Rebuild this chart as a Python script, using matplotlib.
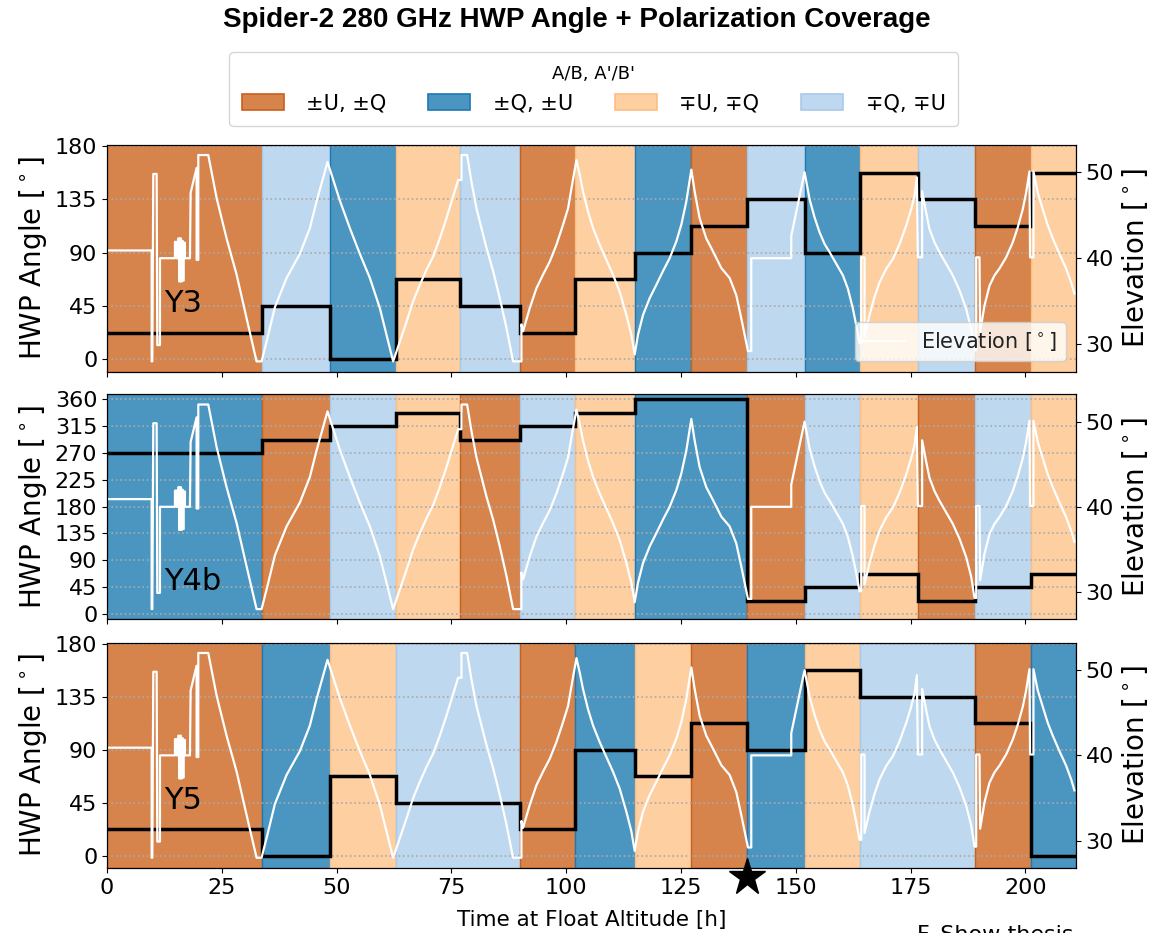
import numpy as np
import matplotlib
matplotlib.use('Agg')
from matplotlib import pyplot as plt
from matplotlib.patches import Patch

# time edges of the HWP steps [h]
edges = [0, 33.7, 48.5, 62.9, 76.8, 89.9, 101.9, 114.9, 127.1, 139.3,
         151.9, 163.9, 176.5, 189.1, 201.3, 211]

# HWP angle for each step [deg]
hwp_y3 = [22.5, 45, 0, 67.5, 45, 22.5, 67.5, 90, 112.5, 135, 90, 157.5, 135, 112.5, 157.5]
hwp_y4b = [270, 292.5, 315, 337.5, 292.5, 315, 337.5, 360, 360, 22.5, 45, 67.5, 22.5, 45, 67.5]
hwp_y5 = [22.5, 0, 67.5, 45, 45, 22.5, 90, 67.5, 112.5, 90, 157.5, 135, 135, 112.5, 0]

# telescope elevation over the flight [h], [deg]
elev_t = [0, 9.72, 9.72, 9.87, 10.08, 10.81, 10.95, 11.53, 11.53, 14.8, 14.8, 15.16, 15.16,
          15.52, 15.52, 15.7, 15.7, 15.9, 15.9, 16.1, 16.1, 16.3, 16.3, 16.5, 16.5, 16.7, 16.7,
          16.97, 16.97, 18.06, 18.21, 19.51, 19.51, 19.88, 19.88, 22.05,
          23.87, 26.04, 28.22, 30.4, 32.57, 33.66,
          34.75, 36.56, 39.1, 42.0, 44.18, 45.63, 48.02,
          50.71, 52.88, 55.06, 57.24, 59.41, 60.86, 62.31,
          63.76, 65.22, 66.67, 68.12, 69.57, 71.02, 72.47, 73.92, 75.37, 76.46,
          77.19, 77.19, 78.42,
          79.36, 80.45, 81.54, 82.63, 84.08, 85.53, 86.98, 88.43, 90.24, 90.24, 90.6,
          92.06, 93.51, 94.96, 96.41, 97.86, 99.31, 100.4, 101.13, 102.22,
          102.94, 103.66, 104.75, 105.84, 107.29, 108.74, 110.19, 111.64, 113.09, 114.18, 114.91,
          115.63, 116.72, 118.17, 119.62, 121.07, 122.52, 123.97, 125.06, 126.15, 127.24,
          127.97, 129.05, 130.5, 131.95, 133.77, 135.58, 137.03, 138.12, 138.85, 139.57,
          140.29, 140.29, 149.0, 149.0, 151.9,
          152.99, 154.08, 155.17, 156.26, 157.35, 158.8, 160.25, 161.33, 162.42, 163.15, 163.87,
          164.24, 164.24, 164.96, 164.96,
          166.05, 167.14, 168.23, 169.68, 171.13, 172.58, 174.03, 175.12, 175.84, 176.35,
          176.57, 177.5, 177.5,
          178.38, 179.1, 180.19, 181.28, 182.73, 184.18, 185.64, 187.09, 188.18, 188.9,
          189.27, 189.27, 189.99, 190.13,
          191.08, 192.17, 193.25, 194.34, 195.79, 197.24, 198.33, 199.42, 200.14, 200.87,
          201.0, 201.74, 201.74,
          202.68, 203.77, 204.86, 205.95, 207.4, 208.85, 209.94, 210.66]
elev_deg = [40.9, 40.9, 28.0, 28.0, 49.8, 49.8, 29.9, 29.9, 40.0, 40.0, 41.9, 41.9, 40.0,
            40.0, 42.3, 42.3, 37.3, 37.3, 42.3, 42.3, 37.3, 37.3, 42.0, 42.0, 37.4, 37.4, 41.8,
            41.8, 40.0, 40.0, 47.6, 50.5, 39.8, 39.8, 52.0, 52.0,
            47.0, 42.3, 38.1, 33.0, 28.0, 28.0,
            30.3, 34.3, 37.7, 40.5, 43.5, 46.6, 51.2,
            46.7, 43.5, 40.5, 37.7, 34.2, 31.1, 28.0,
            30.3, 32.6, 35.0, 36.9, 38.65, 40.2, 42.3, 44.65, 47.2, 49.1,
            49.1, 52.0, 52.0,
            48.9, 45.8, 43.5, 41.2, 38.5, 35.35, 31.9, 28.0, 28.0, 32.3, 31.5,
            34.2, 36.5, 38.1, 39.6, 41.55, 43.9, 45.8, 48.1, 51.4,
            49.7, 47.76, 45.4, 43.5, 41.55, 39.8, 38.07, 36.1, 33.4, 31.1, 28.8,
            31.1, 33.4, 35.35, 36.9, 38.5, 40.0, 41.94, 43.9, 46.6, 50.3,
            47.76, 44.65, 42.3, 40.8, 38.85, 37.7, 35.7, 33.0, 31.1, 29.2,
            29.2, 40.0, 40.0, 42.6, 50.0,
            46.86, 44.74, 43.0, 41.65, 40.7, 39.35, 38.0, 36.45, 34.14, 32.2, 30.1,
            30.1, 40.1, 40.1, 30.9,
            33.4, 35.5, 37.2, 38.77, 39.9, 41.65, 43.8, 45.7, 47.25, 49.4,
            40.1, 40.1, 47.8,
            45.3, 43.4, 41.85, 40.7, 39.35, 38.0, 36.26, 34.1, 31.8, 29.3,
            29.3, 40.1, 40.1, 31.4,
            34.5, 36.8, 38.0, 38.8, 40.1, 41.85, 43.6, 45.7, 47.6, 50.1,
            40.1, 40.1, 50.1,
            47.6, 45.7, 43.8, 42.3, 40.5, 38.8, 37.2, 35.9]

panel_names = ['Y3', 'Y4b', 'Y5']
cov_labels = ['\u00b1U, \u00b1Q', '\u00b1Q, \u00b1U', '\u2213U, \u2213Q', '\u2213Q, \u2213U']
face_cols = ['#d6844b', '#4a96c0', '#fdcfa1', '#bdd8ef']
edge_cols = ['#c8601e', '#1f77b4', '#fbbf85', '#a9c9ea']

# coverage class from the HWP angle (mod 90)
ang2cls = {0.0: 1, 22.5: 0, 45.0: 3, 67.5: 2}

fig = plt.figure(figsize=(11.53, 9.33), dpi=100)
fig.suptitle('Spider-2 280 GHz HWP Angle + Polarization Coverage', fontsize=20,
             fontweight='bold', family='Liberation Sans', y=0.992)

bottoms = [0.6016, 0.3362, 0.0697]
heights = [0.2433, 0.2412, 0.2414]
ylims = [(-10.5, 181), (-9, 368.5), (-10.5, 181)]
yticks = [np.arange(0, 181, 45), np.arange(0, 361, 45), np.arange(0, 181, 45)]

axes = []
for k, hwp in enumerate([hwp_y3, hwp_y4b, hwp_y5]):
    ax = fig.add_axes([0.0928, bottoms[k], 0.8404, heights[k]])
    # shade runs of equal coverage as one band
    i = 0
    while i < len(hwp):
        j = i
        while j + 1 < len(hwp) and hwp[j + 1] == hwp[i]:
            j += 1
        c = ang2cls[hwp[i] % 90]
        ax.axvspan(edges[i], edges[j + 1], facecolor=face_cols[c], edgecolor=edge_cols[c],
                   lw=1)
        i = j + 1
    ax.stairs(hwp, edges, baseline=None, color='k', lw=2.5, zorder=3)
    ax.set_xlim(0, 211)
    ax.set_ylim(*ylims[k])
    ax.set_yticks(yticks[k])
    ax.grid(axis='y', ls=':', color='#aaaaaa', lw=1.2)
    ax.set_ylabel('HWP Angle [$^\\circ$]', fontsize=20)
    ax.tick_params(labelsize=16)
    ax.text(12.5, 40, panel_names[k], fontsize=22, va='baseline', zorder=4)
    if k < 2:
        ax.tick_params(labelbottom=False)

    ax2 = ax.twinx()
    ax2.plot(elev_t, elev_deg, color='w', lw=1.6, label='Elevation [$^\\circ$]')
    ax2.set_ylabel('Elevation [$^\\circ$]', fontsize=20)
    ax2.set_yticks([30, 40, 50])
    ax2.tick_params(labelsize=16)
    if k == 0:
        ax2.legend(loc='lower right', fontsize=15, facecolor='w', framealpha=0.8,
                   labelcolor='#222222')
    axes.append(ax)

ax = axes[2]
ax.set_xticks(np.arange(0, 201, 25))
ax.set_xlabel('Time at Float Altitude [h]', fontsize=15.5, labelpad=9)
ax.plot([139.3], [-0.04], marker='*', ms=28, color='k', clip_on=False,
        transform=ax.get_xaxis_transform(), zorder=10)

handles = [Patch(facecolor=face_cols[i], edgecolor=edge_cols[i], lw=1.2) for i in range(4)]
fig.legend(handles, cov_labels, loc='upper center', bbox_to_anchor=(0.515, 0.955), ncol=4,
           title="A/B, A'/B'", fontsize=15, title_fontsize=13, columnspacing=2.0,
           handletextpad=1.1, handleheight=0.8, borderpad=0.6)

fig.text(0.795, 0.0086, 'F. Show thesis', fontsize=16, va='top')

fig.savefig('out.png', dpi=100)
